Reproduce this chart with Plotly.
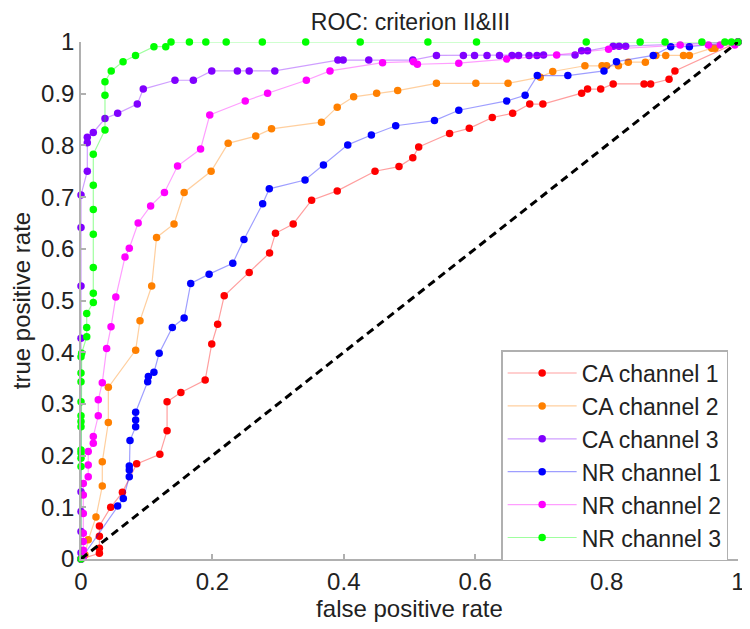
import plotly.graph_objects as go

# ---- data ----
ca1_x = [0, 0.028, 0.028, 0.028, 0.028, 0.0452, 0.063, 0.0847, 0.120, 0.131, 0.131, 0.152, 0.189, 0.199,
         0.208, 0.218, 0.256, 0.287, 0.296, 0.323, 0.351, 0.390, 0.4475, 0.484, 0.505, 0.514, 0.561, 0.591,
         0.626, 0.657, 0.683, 0.703, 0.762, 0.771, 0.791, 0.810, 0.857, 0.867, 0.895, 0.904, 1.0]
ca1_y = [0, 0.011, 0.021, 0.044, 0.064, 0.100, 0.129, 0.184, 0.2025, 0.248, 0.304, 0.322, 0.346, 0.416,
         0.454, 0.509, 0.554, 0.592, 0.630, 0.648, 0.694, 0.712, 0.750, 0.759, 0.776, 0.797, 0.823, 0.833,
         0.854, 0.862, 0.880, 0.880, 0.901, 0.909, 0.909, 0.919, 0.919, 0.919, 0.928, 0.944, 1.0]

ca2_x = [0, 0.006, 0.011, 0.0228, 0.0324, 0.0324, 0.0416, 0.0416, 0.0832, 0.0898, 0.1076, 0.115, 0.1416,
         0.157, 0.198, 0.224, 0.266, 0.290, 0.366, 0.390, 0.415, 0.450, 0.482, 0.541, 0.601, 0.650, 0.699,
         0.718, 0.767, 0.793, 0.800, 0.818, 0.833, 0.859, 0.875, 0.890, 0.917, 0.926, 0.960, 0.965, 1.0]
ca2_y = [0, 0.008, 0.037, 0.081, 0.141, 0.188, 0.264, 0.332, 0.404, 0.461, 0.528, 0.622, 0.648,
         0.709, 0.750, 0.804, 0.818, 0.832, 0.845, 0.874, 0.894, 0.901, 0.906, 0.920, 0.920, 0.920, 0.932,
         0.943, 0.954, 0.954, 0.954, 0.954, 0.961, 0.961, 0.974, 0.974, 0.974, 0.974, 0.988, 0.988, 1.0]

ca3_x = [0, 0, 0, 0, 0, 0, 0, 0, 0, 0.0096, 0.0096, 0.0096, 0.0187, 0.0365, 0.0558, 0.0857, 0.0948,
         0.143, 0.171, 0.199, 0.238, 0.256, 0.295, 0.391, 0.399, 0.438, 0.505, 0.541, 0.582, 0.599, 0.618,
         0.637, 0.656, 0.666, 0.682, 0.694, 0.704, 0.752, 0.762, 0.771, 0.810, 0.819, 0.829, 1.0]
ca3_y = [0, 0.012, 0.053, 0.092, 0.130, 0.427, 0.528, 0.641, 0.704, 0.750, 0.805, 0.816, 0.825, 0.852,
         0.862, 0.880, 0.909, 0.926, 0.926, 0.944, 0.944, 0.944, 0.944, 0.965, 0.965, 0.965, 0.965, 0.974,
         0.974, 0.974, 0.974, 0.974, 0.974, 0.974, 0.974, 0.974, 0.975, 0.975, 0.983, 0.983, 0.992, 0.992,
         0.992, 1.0]

nr1_x = [0, 0.0558, 0.0644, 0.0735, 0.0735, 0.0735, 0.0746, 0.0832, 0.0832, 0.0832, 0.1015, 0.1025, 0.111,
         0.119, 0.139, 0.157, 0.167, 0.195, 0.231, 0.248, 0.2765, 0.2866, 0.341, 0.369, 0.406, 0.442, 0.479,
         0.538, 0.575, 0.648, 0.676, 0.6945, 0.741, 0.796, 0.815, 0.871, 0.8976, 0.926, 1.0]
nr1_y = [0, 0.1025, 0.117, 0.159, 0.172, 0.180, 0.229, 0.256, 0.269, 0.284, 0.343, 0.353, 0.361,
         0.398, 0.448, 0.466, 0.533, 0.551, 0.572, 0.618, 0.687, 0.716, 0.733, 0.762, 0.801, 0.820, 0.838,
         0.848, 0.868, 0.886, 0.897, 0.935, 0.935, 0.944, 0.962, 0.974, 0.991, 0.991, 1.0]

nr2_x = [0, 0.0035, 0.0035, 0.0035, 0.0035, 0.0035, 0.0035, 0.0035, 0.011, 0.011, 0.011, 0.0187, 0.0187,
         0.0263, 0.0263, 0.0324, 0.039, 0.0457, 0.053, 0.067, 0.0735, 0.087, 0.106, 0.127, 0.147, 0.182,
         0.196, 0.250, 0.284, 0.343, 0.379, 0.459, 0.506, 0.512, 0.575, 0.648, 0.724, 0.803, 0.912, 0.955,
         0.973, 0.995, 1.0]
nr2_y = [0, 0.004, 0.017, 0.034, 0.050, 0.088, 0.124, 0.146, 0.159, 0.182, 0.208, 0.224, 0.237,
         0.277, 0.308, 0.341, 0.407, 0.449, 0.507, 0.584, 0.601, 0.650, 0.683, 0.709, 0.760, 0.793,
         0.859, 0.886, 0.901, 0.926, 0.944, 0.960, 0.962, 0.957, 0.959, 0.967, 0.975, 0.986, 0.994, 0.994,
         0.994, 0.994, 1.0]

nr3_x = [0, 0, 0, 0, 0, 0, 0, 0, 0, 0, 0, 0, 0.001, 0.0087, 0.0087, 0.0087, 0.0187, 0.0187, 0.0187, 0.0187,
         0.0187, 0.0187, 0.0187, 0.0365, 0.0365, 0.0365, 0.046, 0.064, 0.083, 0.111, 0.129, 0.137, 0.165,
         0.19, 0.221, 0.276, 0.342, 0.425, 0.528, 0.602, 0.769, 0.851, 0.889, 0.945, 0.98, 0.99, 1.0]
nr3_y = [0, 0.179, 0.195, 0.205, 0.211, 0.256, 0.266, 0.277, 0.304, 0.343, 0.360, 0.391, 0.398, 0.430,
         0.448, 0.475, 0.496, 0.514, 0.564, 0.628, 0.676, 0.723, 0.783, 0.830, 0.897, 0.923, 0.944, 0.962,
         0.974, 0.991, 0.991, 1, 1, 1, 1, 1, 1, 1, 1, 1, 1, 1, 1, 1, 1, 1, 1]

diag_x = [0, 1]
diag_y = [0, 1]

series_names = ["CA channel 1", "CA channel 2", "CA channel 3", "NR channel 1", "NR channel 2", "NR channel 3"]
marker_colors = ["#ff0000", "#ff8000", "#8000ff", "#0000ff", "#ff00ff", "#00ff00"]
line_colors = ["rgba(255,0,0,0.38)", "rgba(255,128,0,0.38)", "rgba(128,0,255,0.38)",
               "rgba(0,0,255,0.38)", "rgba(255,0,255,0.38)", "rgba(0,255,0,0.38)"]
xs = [ca1_x, ca2_x, ca3_x, nr1_x, nr2_x, nr3_x]
ys = [ca1_y, ca2_y, ca3_y, nr1_y, nr2_y, nr3_y]

FONT = "Liberation Sans, Arial, sans-serif"
TXT = "#222222"
FS = 24

# the page body has an 8px default margin, so the figure is made 8px smaller
# and its left/top margins are reduced by 8px to land the plot area at 81..738 / 42..559
W, H = 742, 621
ML, MR, MT, MB = 73, 12, 34, 70

fig = go.Figure()
for name, x, y, mc, lc in zip(series_names, xs, ys, marker_colors, line_colors):
    fig.add_trace(go.Scatter(
        x=x, y=y, name=name, mode="lines+markers",
        line=dict(color=lc, width=1.2),
        marker=dict(color=mc, size=7.5),
        cliponaxis=False,
    ))

fig.add_trace(go.Scatter(
    x=diag_x, y=diag_y, mode="lines", showlegend=False, hoverinfo="skip",
    line=dict(color="black", width=3, dash="8px,5px"), cliponaxis=False,
))

axis_common = dict(
    range=[0, 1], showgrid=False, zeroline=False, showline=True, linecolor="#b0b0b0", linewidth=1.5,
    ticks="inside", ticklen=5, tickcolor="#b0b0b0", tickwidth=1.5, automargin=False,
    tickfont=dict(family=FONT, size=FS, color=TXT), mirror=False,
)

fig.update_layout(
    width=W, height=H,
    paper_bgcolor="white", plot_bgcolor="white",
    margin=dict(l=ML, r=MR, t=MT, b=MB),
    title=dict(text="ROC: criterion II&III", x=(ML + W - MR) / 2 / W + 1 / W, xanchor="center",
               y=1 - 14 / H, yanchor="middle", yref="container",
               font=dict(family=FONT, size=23, color=TXT)),
    xaxis=dict(**axis_common, dtick=0.2, tickformat="~g",
               title=dict(text="false positive rate", standoff=2,
                          font=dict(family=FONT, size=FS, color=TXT))),
    yaxis=dict(**axis_common, dtick=0.1, tickformat="~g",
               title=dict(text="true positive rate", standoff=6,
                          font=dict(family=FONT, size=FS, color=TXT))),
    legend=dict(x=0.985, xanchor="right", y=-0.004, yanchor="bottom",
                bordercolor="#b0b0b0", borderwidth=1.5, bgcolor="white",
                font=dict(family=FONT, size=23, color=TXT),
                tracegroupgap=0, itemwidth=69),
    showlegend=True,
)

fig.write_html("out.html")
